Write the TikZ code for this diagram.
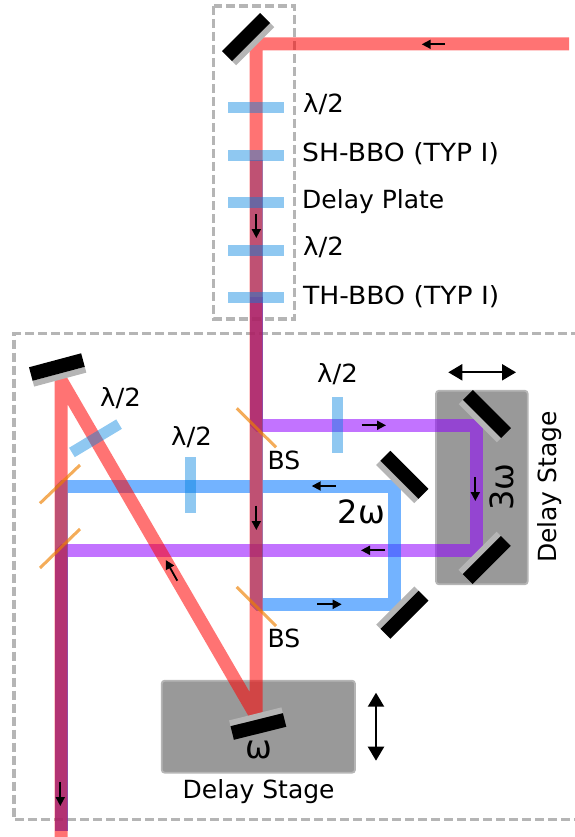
\documentclass[tikz,border=0pt]{standalone}
\usepackage{fontspec}
\setmainfont{DejaVu Sans}
\newfontfamily\capsfont[FakeStretch=1.065]{DejaVu Sans}
\newfontfamily\lamfont[FakeStretch=1.04]{DejaVu Sans}
\usetikzlibrary{arrows.meta}
\definecolor{dashgray}{RGB}{181,181,181}
\definecolor{stagefill}{RGB}{153,153,153}
\definecolor{redbeam}{RGB}{255,0,0}
\definecolor{bluebeam}{RGB}{0,117,255}
\definecolor{purplebeam}{RGB}{144,0,255}
\definecolor{plateblue}{RGB}{0,130,222}
\definecolor{bsorange}{RGB}{238,128,0}
\newcommand{\mirrorat}[3]{%
  \begin{scope}[shift={(#1,#2)},rotate=#3]
    \fill[dashgray] (-27,0) rectangle (27,6);
    \fill[black] (-27,-14) rectangle (27,0);
  \end{scope}}
\tikzset{
  dashbox/.style={draw=dashgray,line width=3.2pt,dash pattern=on 9pt off 4pt},
  stage/.style={draw=dashgray,fill=stagefill,line width=1.8pt,rounded corners=3pt},
  beam/.style={line width=13pt,draw opacity=.55,line join=bevel},
  plate/.style={fill=plateblue,fill opacity=.44},
  bsline/.style={draw=bsorange,draw opacity=.65,line width=3pt},
  smallarrow/.style={line width=1.8pt,-{Triangle[length=9pt,width=9pt]}},
  bigarrow/.style={line width=2.2pt,{Triangle[length=14pt,width=16pt]}-{Triangle[length=14pt,width=16pt]}},
  lab/.style={inner sep=0pt,anchor=base west,font=\fontsize{25}{30}\selectfont},
  biglab/.style={inner sep=0pt,anchor=base west,font=\fontsize{32}{38}\selectfont},
}
\begin{document}
\begin{tikzpicture}[x=1pt,y=-1pt]
\useasboundingbox (0,0) rectangle (574,837);
% dashed frames
\draw[dashbox] (213.5,6) rectangle (294.5,319);
\draw[dashbox] (580,333.5) -- (14,333.5) -- (14,819.5) -- (580,819.5);
% stages
\draw[stage] (161.7,680.7) rectangle (355,772.7);
\draw[stage] (436,390.7) rectangle (527.7,584.3);
% beams
\draw[beam,draw=purplebeam] (256,297) -- (256,425) -- (476,425) -- (476,550) -- (61,550) -- (61,831);
\draw[beam,draw=bluebeam] (256,160) -- (256,604) -- (394,604) -- (394,486) -- (61,486) -- (61,831);
\draw[beam,draw=redbeam] (569,44) -- (256,44) -- (256,716) -- (61,380) -- (61,837);
% wave plates
\foreach \py in {107.5,155.3,202.3,250.3,297.3}
  \fill[plate] (228,\py-5.5) rectangle (284,\py+5.5);
\fill[plate] (332,397) rectangle (342.7,452.7);
\fill[plate] (185,457) rectangle (196,512.7);
\fill[plate,shift={(95.5,438.3)},rotate=31] (-27.5,-5.5) rectangle (27.5,5.5);
% beam splitters
\draw[bsline] (40,503.3) -- (80,465);
\draw[bsline] (40,568) -- (80,529);
\draw[bsline] (236.7,408.3) -- (276,447.3);
\draw[bsline] (236.7,587) -- (276,626);
% mirrors
\mirrorat{251}{42}{45}
\mirrorat{58.7}{373.8}{15}
\mirrorat{482}{419}{-45}
\mirrorat{399.5}{479.8}{-45}
\mirrorat{481.8}{555}{225}
\mirrorat{399.5}{609.8}{225}
\mirrorat{256.7}{719.7}{194}
% small arrows
\draw[smallarrow] (445,44.3) -- (421.7,44.3);
\draw[smallarrow] (256.3,214) -- (256.3,238);
\draw[smallarrow] (256.3,505.7) -- (256.3,530);
\draw[smallarrow] (177.3,580.7) -- (165.7,560);
\draw[smallarrow] (361.7,425.3) -- (386,425.3);
\draw[smallarrow] (335.7,486) -- (311.7,486);
\draw[smallarrow] (475.3,477.3) -- (475.3,501);
\draw[smallarrow] (385,550.3) -- (361,550.3);
\draw[smallarrow] (317.3,604.3) -- (341.7,604.3);
\draw[smallarrow] (60.3,782) -- (60.3,806);
% big arrows
\draw[bigarrow] (448.3,372.3) -- (516,372.3);
\draw[bigarrow] (376,692.7) -- (376,760.7);
% labels
\node[lab] (l1) at (303,113) {\lamfont λ/2};
\node[lab] (l2) at (302,161.5) {\capsfont SH-BBO (TYP I)};
\node[lab] (l3) at (302,208) {Delay Plate};
\node[lab] (l4) at (303,255) {\lamfont λ/2};
\node[lab] (l5) at (303,304) {\capsfont TH-BBO (TYP I)};
\node[lab] (l6) at (100,406.7) {\lamfont λ/2};
\node[lab] (l7) at (171,445.7) {\lamfont λ/2};
\node[lab] (l8) at (317,382) {\lamfont λ/2};
\node[lab] (b1) at (267.5,469) {BS};
\node[lab] (b2) at (267.5,647) {BS};
\node[biglab] (w2) at (337.5,523.3) {2ω};
\node[biglab,anchor=base,rotate=90] (w3) at (513,487) {3ω};
\node[biglab] (w1) at (245.5,758) {ω};
\node[lab,anchor=base,rotate=90] (d1) at (556.7,487) {Delay Stage};
\node[lab] (d2) at (182.5,798.5) {Delay Stage};
\end{tikzpicture}
\end{document}
